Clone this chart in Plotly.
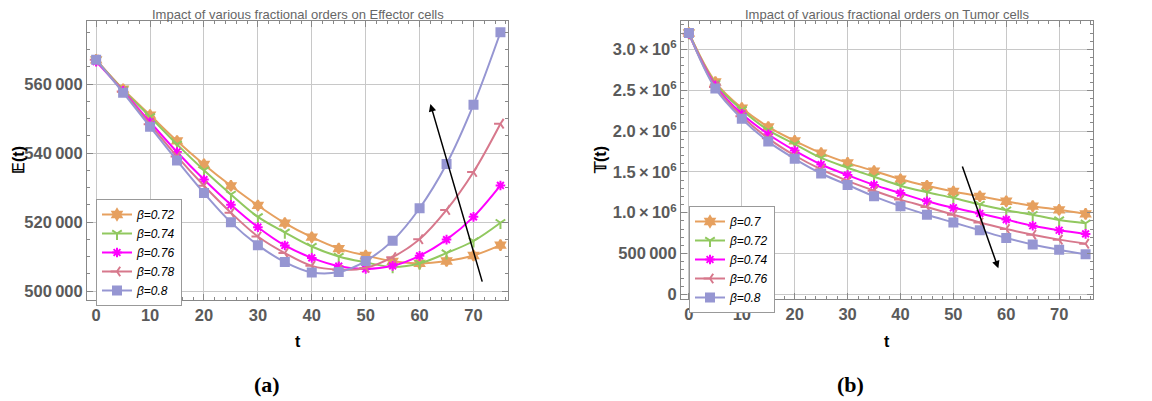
import plotly.graph_objects as go

t = [0, 5, 10, 15, 20, 25, 30, 35, 40, 45, 50, 55, 60, 65, 70, 75]

# Panel (a): Effector cells
beta_a = ["0.72", "0.74", "0.76", "0.78", "0.8"]
E_072 = [567000, 558500, 551000, 543500, 536700, 530500, 524800, 519700, 515600, 512300, 510300, 508600, 508000, 508700, 510300, 513300]
E_074 = [567000, 558300, 550500, 542500, 535000, 528000, 521500, 517000, 512900, 510000, 508300, 507000, 508000, 511000, 514500, 519800]
E_076 = [566500, 558000, 549000, 540300, 532300, 525000, 518500, 513200, 509600, 507200, 506400, 507300, 510200, 514900, 521500, 530600]
E_078 = [567000, 557800, 548300, 539000, 530500, 522700, 515800, 511000, 507300, 506200, 506700, 509800, 515000, 523500, 534500, 548500]
E_080 = [567000, 557500, 547600, 537800, 528400, 519900, 513300, 508400, 505400, 505500, 508700, 514600, 524000, 536800, 554000, 575000]

# Panel (b): Tumor cells
beta_b = ["0.7", "0.72", "0.74", "0.76", "0.8"]
T_070 = [3.20e6, 2.60e6, 2.28e6, 2.05e6, 1.88e6, 1.73e6, 1.61e6, 1.51e6, 1.41e6, 1.33e6, 1.26e6, 1.20e6, 1.14e6, 1.08e6, 1.035e6, 0.985e6]
T_072 = [3.20e6, 2.58e6, 2.26e6, 2.01e6, 1.84e6, 1.67e6, 1.55e6, 1.44e6, 1.33e6, 1.25e6, 1.18e6, 1.10e6, 1.03e6, 0.975e6, 0.91e6, 0.87e6]
T_074 = [3.19e6, 2.56e6, 2.21e6, 1.96e6, 1.76e6, 1.59e6, 1.46e6, 1.34e6, 1.24e6, 1.14e6, 1.06e6, 0.99e6, 0.915e6, 0.84e6, 0.785e6, 0.74e6]
T_076 = [3.19e6, 2.54e6, 2.18e6, 1.91e6, 1.70e6, 1.53e6, 1.39e6, 1.27e6, 1.16e6, 1.07e6, 0.975e6, 0.88e6, 0.80e6, 0.73e6, 0.67e6, 0.62e6]
T_080 = [3.20e6, 2.52e6, 2.15e6, 1.87e6, 1.66e6, 1.48e6, 1.34e6, 1.20e6, 1.08e6, 0.975e6, 0.88e6, 0.785e6, 0.69e6, 0.61e6, 0.545e6, 0.49e6]

xticks = [0, 10, 20, 30, 40, 50, 60, 70]
yticks_a = [500000, 520000, 540000, 560000]
yticklabels_a = ["500\u2009000", "520\u2009000", "540\u2009000", "560\u2009000"]
yticks_b = [0, 500000, 1000000, 1500000, 2000000, 2500000, 3000000]
yticklabels_b = ["0", "500\u2009000", "1.0\u2009\u00d7\u200910<sup>6</sup>", "1.5\u2009\u00d7\u200910<sup>6</sup>",
                 "2.0\u2009\u00d7\u200910<sup>6</sup>", "2.5\u2009\u00d7\u200910<sup>6</sup>",
                 "3.0\u2009\u00d7\u200910<sup>6</sup>"]

colors = ["rgb(230,160,95)", "rgb(145,200,95)", "rgb(255,0,255)", "rgb(215,120,140)", "rgb(150,150,210)"]
symbols = ["hexagram", "y-down-open", "asterisk-open", "y-left-open", "square"]

# page has an 8px body margin: the figure is placed at page (8, 8)
W, H, OFF = 1144, 393, 8
def fx(px):
    return (px - OFF) / W
def fy(py):
    return 1 - (py - OFF) / H

fig = go.Figure()

for i, ys in enumerate([E_072, E_074, E_076, E_078, E_080]):
    fig.add_trace(go.Scatter(
        x=t, y=ys, mode="lines+markers", name=f"<i>\u03b2={beta_a[i]}</i>",
        line=dict(color=colors[i], width=2, shape="spline"),
        marker=dict(symbol=symbols[i], size=8, color=colors[i],
                    line=dict(color=colors[i], width=2)),
        xaxis="x", yaxis="y", legend="legend"))

for i, ys in enumerate([T_070, T_072, T_074, T_076, T_080]):
    fig.add_trace(go.Scatter(
        x=t, y=ys, mode="lines+markers", name=f"<i>\u03b2={beta_b[i]}</i>",
        line=dict(color=colors[i], width=2, shape="spline"),
        marker=dict(symbol=symbols[i], size=8, color=colors[i],
                    line=dict(color=colors[i], width=2)),
        xaxis="x2", yaxis="y2", legend="legend2"))

tickfont = dict(family="Liberation Sans, Arial", size=16.5, color="#5a5a5a", weight="bold")
common_x = dict(tickvals=xticks, ticks="inside", ticklen=6, tickcolor="#888",
                showgrid=True, gridcolor="#c8c8c8", gridwidth=1,
                showline=True, linecolor="#888", linewidth=1, mirror="allticks",
                zeroline=False, tickfont=tickfont, automargin=False,
                minor=dict(dtick=2, ticks="inside", ticklen=3, tickcolor="#888", showgrid=False))
common_y = dict(ticks="inside", ticklen=6, tickcolor="#888",
                showgrid=True, gridcolor="#c8c8c8", gridwidth=1,
                showline=True, linecolor="#888", linewidth=1, mirror="allticks",
                zeroline=False, tickfont=tickfont, automargin=False)

axis_title_font = dict(family="Liberation Sans, Arial", size=16, color="black", weight="bold")

legend_common = dict(xanchor="left", yanchor="top",
                     bgcolor="white", bordercolor="#999", borderwidth=1,
                     font=dict(family="Liberation Sans, Arial", size=12, color="black"),
                     tracegroupgap=0, itemwidth=30)

def label(text, x, y, font, angle=0):
    return dict(text=text, xref="paper", yref="paper", x=fx(x), y=fy(y), showarrow=False,
                xanchor="center", yanchor="middle", textangle=angle, font=font)

title_font = dict(family="Liberation Sans, Arial", size=13, color="#666")
panel_font = dict(family="Liberation Serif, Times New Roman", size=22, color="black")

fig.update_layout(
    width=W, height=H,
    margin=dict(l=0, r=0, t=0, b=0),
    paper_bgcolor="white", plot_bgcolor="white",
    xaxis=dict(domain=[fx(87), fx(508)], range=[-1.7, 76.4], anchor="y", **common_x),
    yaxis=dict(domain=[fy(300), fy(21)], range=[497400, 578260], anchor="x",
               tickvals=yticks_a, ticktext=yticklabels_a,
               minor=dict(dtick=5000, ticks="inside", ticklen=3, tickcolor="#888", showgrid=False),
               **common_y),
    xaxis2=dict(domain=[fx(681), fx(1093)], range=[-1.5, 76.4], anchor="y2", **common_x),
    yaxis2=dict(domain=[fy(299), fy(21)], range=[-57000, 3347000], anchor="x2",
                tickvals=yticks_b, ticktext=yticklabels_b,
                minor=dict(dtick=100000, ticks="inside", ticklen=3, tickcolor="#888", showgrid=False),
                **common_y),
    legend=dict(x=fx(96), y=fy(199), **legend_common),
    legend2=dict(x=fx(689), y=fy(206), **legend_common),
    annotations=[
        label("Impact of various fractional orders on Effector cells", 297.5, 14, title_font),
        label("Impact of various fractional orders on Tumor cells", 887, 14, title_font),
        label("\U0001D53C(t)", 18, 160, axis_title_font, -90),
        label("\U0001D54B(t)", 600, 160, axis_title_font, -90),
        label("t", 297.5, 341, axis_title_font),
        label("t", 887, 341, axis_title_font),
        label("<b>(a)</b>", 267, 384, panel_font),
        label("<b>(b)</b>", 850, 384, panel_font),
        dict(x=62.0, y=554200, ax=71.7, ay=502300, xref="x", yref="y", axref="x", ayref="y",
             showarrow=True, arrowhead=2, arrowsize=1, arrowwidth=1.5, arrowcolor="black", text=""),
        dict(x=58.5, y=318000, ax=51.6, ay=1583000, xref="x2", yref="y2", axref="x2", ayref="y2",
             showarrow=True, arrowhead=2, arrowsize=1, arrowwidth=1.5, arrowcolor="black", text=""),
    ],
)

fig.write_html("out.html")
